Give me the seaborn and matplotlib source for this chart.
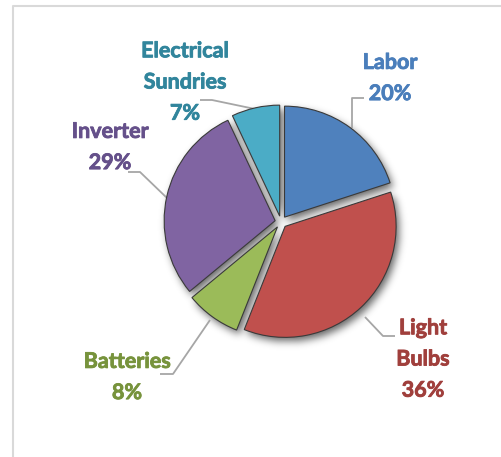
import numpy as np
import matplotlib
matplotlib.use("Agg")
import matplotlib.pyplot as plt
import matplotlib.patheffects as pe
import seaborn as sns
from matplotlib.path import Path

sns.set_theme(style="white")
plt.rcParams["font.family"] = ["Lato", "DejaVu Sans"]

# ---- data ----
categories = ["Labor", "Light Bulbs", "Batteries", "Inverter", "Electrical Sundries"]
shares = [20, 36, 8, 29, 7]
label_lines = ["Labor", "Light\nBulbs", "Batteries", "Inverter", "Electrical\nSundries"]

# ---- style ----
W, H = 502, 457
slice_colors = ["#4F81BD", "#C0504D", "#9BBB59", "#8064A2", "#4BACC6"]
text_colors = ["#4A7EBB", "#A03F3C", "#77933C", "#65508A", "#31859C"]
# label centre (px, top-left origin) and leader polyline per slice
label_pos = [(390, 78), (423, 359), (127, 377), (110, 147), (185, 82)]
leaders = [
    [(364, 98), (352, 98), (352, 128)],
    [(395, 336), (383, 336), (365, 317)],
    [(160, 374), (173, 374), (210, 320)],
    [(128, 172), (140, 172), (167, 198)],
    [(200, 100), (212, 100), (255, 109)],
]
centre_px = (281, 222)
radius = 111
gap = 6


def fy(y):
    return H - y


fig = plt.figure(figsize=(W / 100, H / 100), dpi=100)
ax = fig.add_axes([0, 0, 1, 1])

wedges, _ = ax.pie(
    shares,
    colors=slice_colors,
    startangle=90,
    counterclock=False,
    radius=radius,
    center=(centre_px[0], fy(centre_px[1])),
    explode=[gap] * len(shares),
    wedgeprops=dict(edgecolor="#3a3a3a", linewidth=0.8),
    frame=True,
)
ax.set_aspect("equal")
ax.axis("off")
for w in wedges:
    w.set_zorder(3)

# soft drop shadow: rasterise the wedges, shift, blur
yy, xx = np.mgrid[0:H, 0:W]
pts = np.column_stack([xx.ravel() + 0.5, (H - yy.ravel() - 0.5)])
mask = np.zeros(H * W, dtype=float)
dx, dy = 3, 4
for w in wedges:
    p = w.get_path().transformed(w.get_patch_transform())
    p = Path(p.vertices + np.array([dx, -dy]), p.codes)
    mask = np.maximum(mask, p.contains_points(pts).astype(float))
mask = mask.reshape(H, W)
sigma = 4.0
k = np.arange(-12, 13)
kern = np.exp(-0.5 * (k / sigma) ** 2)
kern /= kern.sum()
blur = np.apply_along_axis(lambda r: np.convolve(r, kern, mode="same"), 1, mask)
blur = np.apply_along_axis(lambda c: np.convolve(c, kern, mode="same"), 0, blur)
rgba = np.zeros((H, W, 4))
rgba[..., 3] = blur * 0.6
ax.imshow(rgba, extent=(0, W, 0, H), origin="upper", zorder=1, interpolation="bilinear")
ax.set_xlim(0, W)
ax.set_ylim(0, H)

# leader lines and labels
for lab, sh, col, (lx, ly), pl in zip(label_lines, shares, text_colors, label_pos, leaders):
    xs = [p[0] for p in pl]
    ys = [fy(p[1]) for p in pl]
    ax.plot(xs, ys, color="#A6A6A6", lw=1.3, zorder=2, solid_capstyle="butt")
    ax.text(lx, fy(ly), f"{lab}\n{sh}%", ha="center", va="center", color=col,
            fontsize=15.5, fontweight="bold", linespacing=1.6, zorder=4,
            path_effects=[pe.withStroke(linewidth=0.6, foreground=col)])

# chart area border
ax.plot([13, 13, W + 5], [-5, fy(6), fy(6)], color="#D9D9D9", lw=1.5, zorder=0,
        clip_on=False)

fig.savefig("out.png", dpi=100)
